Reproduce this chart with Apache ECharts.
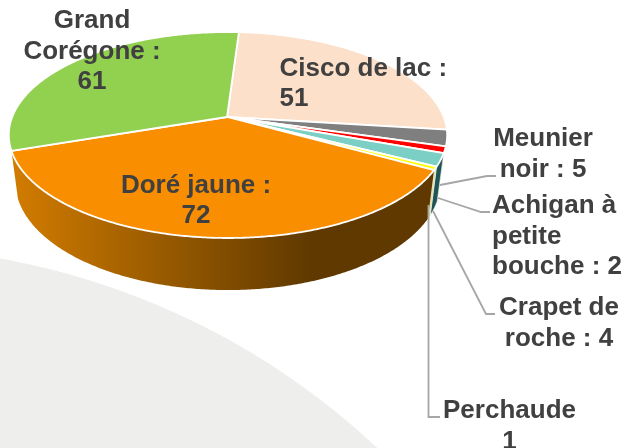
<!DOCTYPE html>
<html>
<head>
<meta charset="utf-8">
<style>html,body{margin:0;padding:0;background:#fff}#c{width:625px;height:448px}</style>
<script src="https://cdn.jsdelivr.net/npm/echarts@6/dist/echarts.min.js"></script>
</head>
<body>
<div id="c"></div>
<script>
// ---- data ----
const names = ['Cisco de lac', 'Meunier noir', 'Achigan à petite bouche', 'Crapet de roche', 'Perchaude', 'Doré jaune', 'Grand Corégone'];
const values = [51, 5, 2, 4, 1, 72, 61];
const labelTexts = ['Cisco de lac :\n{v}', 'Meunier\nnoir : {v}', 'Achigan à\npetite\nbouche : {v}', 'Crapet de\nroche : {v}', 'Perchaude\n{v}', 'Doré jaune :\n{v}', 'Grand\nCorégone :\n{v}'];

// ---- styles ----
const topColors = ['#FCE0C9', '#7F7F7F', '#FF0000', '#7CCFC5', '#FFFF00', '#F88E00', '#92D050'];
const wallGradient = new echarts.graphic.LinearGradient(12, 0, 312, 0, [
  {offset: 0, color: '#D27C00'}, {offset: 1, color: '#5F3900'}
], true);
const wallColors = [null, null, null, '#1F5558', '#E2E2A8', wallGradient, null];
const labelBoxes = [
  {x: 279.5, y: 84, align: 'left'},
  {x: 543, y: 154.5, align: 'center'},
  {x: 492, y: 236.5, align: 'left'},
  {x: 559, y: 323.5, align: 'center'},
  {x: 509.5, y: 426.5, align: 'center'},
  {x: 196, y: 201, align: 'center'},
  {x: 92, y: 51.5, align: 'center'}
];
const leaderPaths = [
  null,
  [[440, 185], [487, 176], [496, 176]],
  [[438, 198], [481, 212], [490, 212]],
  [[433, 211], [486, 314], [495, 314]],
  [[428.5, 205], [428.5, 417], [440, 417]],
  null, null
];

// ---- perspective pie geometry ----
const apexX = 227, apexY = 117, rimShiftX = 1;
const scaleX = 215.8, scaleY = 99.85, persp = -0.1748;
const startDeg = 3.4;
const wallDrop = 46, wallShrinkX = 0.97, wallStretchY = 1.05;
const total = values.reduce((a, b) => a + b, 0);

function rim(deg, depth) {
  const t = deg * Math.PI / 180;
  const u = Math.sin(t), v = -Math.cos(t);
  const d = 1 + persp * v;
  const X = scaleX * u / d + rimShiftX, Y = scaleY * v / d;
  return depth
    ? [apexX + X * wallShrinkX, apexY + Y * wallStretchY + wallDrop]
    : [apexX + X, apexY + Y];
}
function sliceAngles(i) {
  let before = 0;
  for (let k = 0; k < i; k++) before += values[k];
  return [startDeg + before / total * 360, startDeg + (before + values[i]) / total * 360];
}
function arcDegs(a, b) {
  const out = [];
  const n = Math.max(2, Math.ceil((b - a) * 2));
  for (let k = 0; k <= n; k++) out.push(a + (b - a) * k / n);
  return out;
}

const rows = values.map((v, i) => [i, v]);

function renderWall(params, api) {
  const i = api.value(0);
  if (!wallColors[i]) return null;
  const [a, b] = sliceAngles(i);
  const degs = arcDegs(a, b);
  const pts = degs.map(d => rim(d, false)).concat(degs.slice().reverse().map(d => rim(d, true)));
  const thin = i !== 5;
  return {
    type: 'polygon',
    shape: {points: pts},
    style: {fill: wallColors[i], stroke: thin ? '#EDEDD8' : null, lineWidth: thin ? 0.6 : 0},
    silent: true
  };
}
function renderTop(params, api) {
  const i = api.value(0);
  const [a, b] = sliceAngles(i);
  const pts = [[apexX, apexY]].concat(arcDegs(a, b).map(d => rim(d, false)));
  return {
    type: 'polygon',
    shape: {points: pts},
    style: {fill: topColors[i], stroke: '#FFFFFF', lineWidth: 1.8, lineJoin: 'round'},
    silent: true
  };
}
function renderLeader(params, api) {
  const i = api.value(0);
  if (!leaderPaths[i]) return null;
  return {
    type: 'polyline',
    shape: {points: leaderPaths[i]},
    style: {stroke: '#A6A6A6', lineWidth: 1.8, fill: null},
    silent: true
  };
}
function renderLabel(params, api) {
  const i = api.value(0);
  const box = labelBoxes[i];
  return {
    type: 'text',
    style: {
      text: labelTexts[i].replace('{v}', api.value(1)),
      x: box.x, y: box.y, align: box.align, verticalAlign: 'middle',
      fontFamily: '"Liberation Sans", Arial, sans-serif',
      fontWeight: 'bold', fontSize: 26, lineHeight: 30.5, fill: '#404040'
    },
    silent: true
  };
}

const chart = echarts.init(document.getElementById('c'), null, {renderer: 'canvas'});
const base = {type: 'custom', coordinateSystem: 'none', data: rows, animation: false, silent: true};
chart.setOption({
  animation: false,
  backgroundColor: '#FFFFFF',
  graphic: {elements: [{
    type: 'circle', z: -10, silent: true,
    shape: {cx: -130, cy: 988, r: 741},
    style: {fill: '#EEEEEC'}
  }]},
  series: [
    Object.assign({}, base, {name: 'walls', z: 2, renderItem: renderWall}),
    Object.assign({}, base, {name: 'slices', z: 3, renderItem: renderTop}),
    Object.assign({}, base, {name: 'leaders', z: 4, renderItem: renderLeader}),
    Object.assign({}, base, {name: 'labels', z: 5, renderItem: renderLabel})
  ]
});
</script>
</body>
</html>
